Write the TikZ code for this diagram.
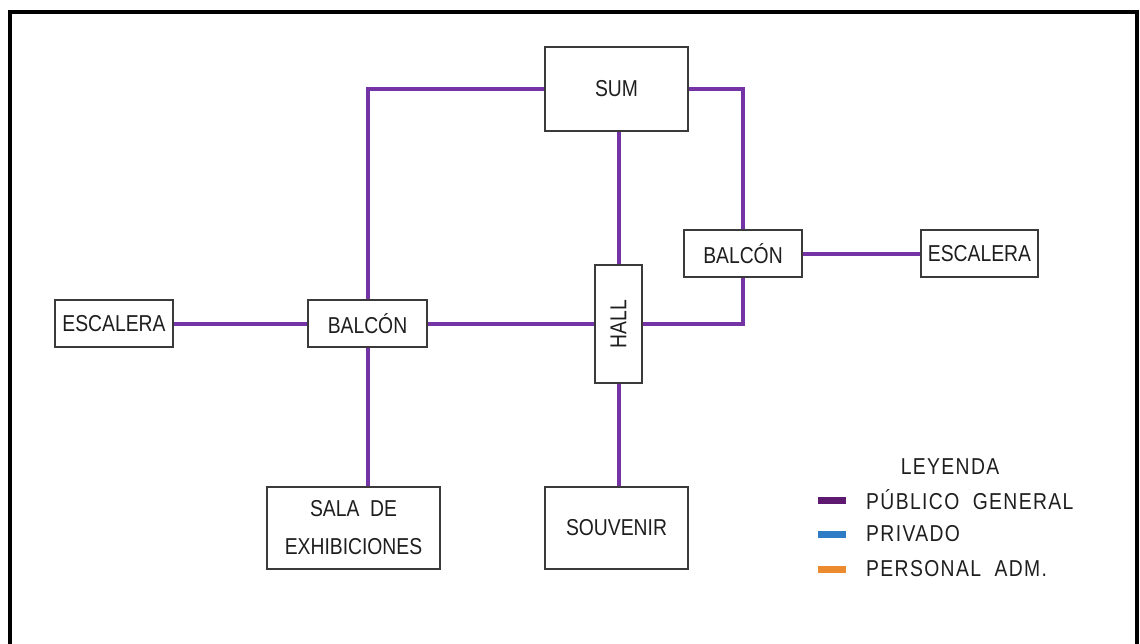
\documentclass[tikz,border=0pt]{standalone}
\usepackage{fontspec}
\setmainfont{Liberation Sans}[FakeStretch=0.84]
\newfontfamily\legfont{Liberation Sans}[FakeStretch=0.84, LetterSpace=6]
\definecolor{conn}{HTML}{7434A6}
\definecolor{lgpurple}{HTML}{5E1A70}
\definecolor{lgblue}{HTML}{2F7CC6}
\definecolor{lgorange}{HTML}{EC8A2E}
\definecolor{boxline}{HTML}{3A3A3A}
\definecolor{txt}{HTML}{1E1E1E}
\tikzset{
  room/.style={draw=boxline, line width=1.8pt, fill=white, inner sep=0pt, font=\fontsize{23}{28}\selectfont, text=txt, align=center},
  link/.style={draw=conn, line width=4pt},
  swatch/.style={line width=7pt},
  legtext/.style={anchor=west, font=\legfont\fontsize{23}{28}\selectfont, text=txt, inner sep=0pt}
}
\begin{document}
\begin{tikzpicture}[x=1pt,y=-1pt]
\useasboundingbox (0,0) rectangle (1140,643);
% frame
\draw[line width=4pt] (10,645) -- (10,12) -- (1137,12) -- (1137,645);
% rooms
\node[room, minimum width=143, minimum height=84] (sum) at (616.5,89) {SUM};
\node[room, minimum width=118, minimum height=47] (escL) at (114,323.5) {ESCALERA};
\node[room, minimum width=119, minimum height=47] (balL) at (367.5,323.5) {BALCÓN};
\node[room, minimum width=47, minimum height=118] (hall) at (618.5,324) {};
\node[rotate=90, font=\fontsize{23}{28}\selectfont, text=txt] (hallt) at (hall.center) {HALL};
\node[room, minimum width=118, minimum height=47] (balR) at (743,253.5) {BALCÓN};
\node[room, minimum width=117, minimum height=47] (escR) at (979.5,253.5) {ESCALERA};
\node[room, minimum width=173, minimum height=82, font=\fontsize{23}{38}\selectfont] (sala) at (353.5,528) {SALA\ \ DE\\EXHIBICIONES};
\node[room, minimum width=143, minimum height=82] (souv) at (616.5,528) {SOUVENIR};
% connectors
\draw[link] (escL.east) -- (balL.west);
\draw[link] (balL.east) -- (hall.west |- balL.east);
\draw[link] (balL.north) |- (sum.west);
\draw[link] (balL.south) -- (balL.south |- sala.north);
\draw[link] (sum.south -| hall.north) -- (hall.north);
\draw[link] (sum.east) -| (balR.north);
\draw[link] (balR.south) |- (hall.east |- balL.east);
\draw[link] (balR.east) -- (escR.west);
\draw[link] (hall.south) -- (hall.south |- souv.north);
% legend
\node[font=\legfont\fontsize{23}{28}\selectfont, text=txt] (ley) at (950,467) {LEYENDA};
\coordinate (s1a) at (818,500); \coordinate (s1b) at (846,500);
\coordinate (s2a) at (818,534); \coordinate (s2b) at (846,534);
\coordinate (s3a) at (818,569); \coordinate (s3b) at (846,569);
\draw[swatch, lgpurple] (s1a) -- (s1b);
\draw[swatch, lgblue] (s2a) -- (s2b);
\draw[swatch, lgorange] (s3a) -- (s3b);
\node[legtext] (l1) at (866,500) {PÚBLICO\ \ GENERAL};
\node[legtext] (l2) at (866,534) {PRIVADO};
\node[legtext] (l3) at (866,569) {PERSONAL\ \ ADM.};
\end{tikzpicture}
\end{document}
